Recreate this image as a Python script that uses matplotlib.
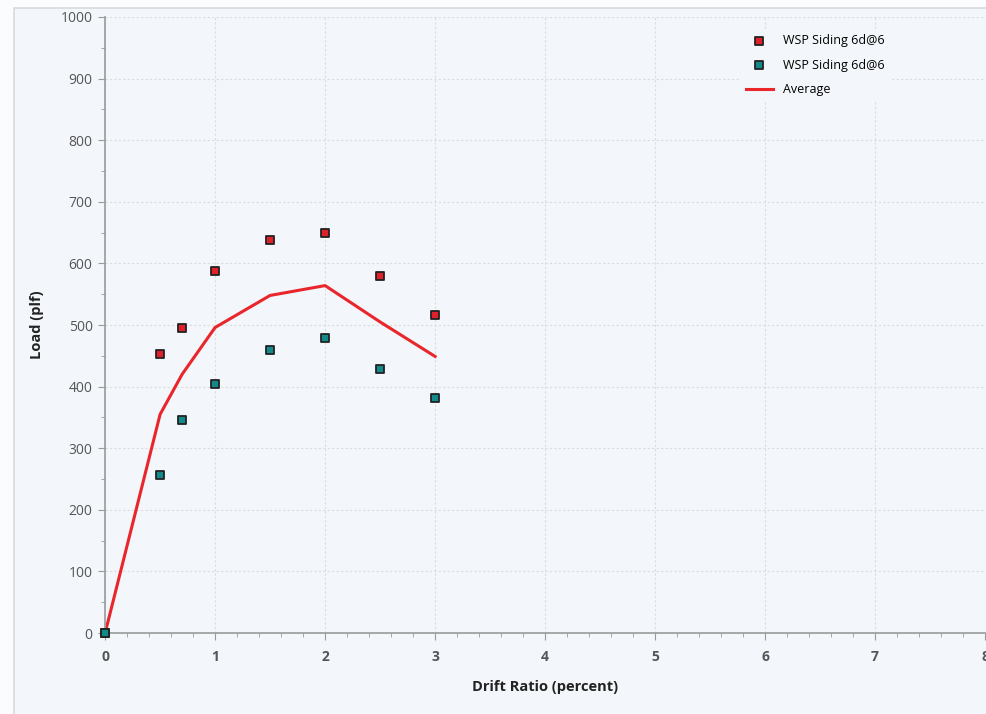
import matplotlib.pyplot as plt
from matplotlib.patches import Rectangle
from matplotlib.ticker import MultipleLocator

# --- Donnees ---
drift = [0, 0.5, 0.7, 1.0, 1.5, 2.0, 2.5, 3.0]
load_a = [0, 453, 495, 588, 638, 649, 580, 516]
load_b = [0, 256, 346, 404, 459, 479, 429, 381]
average = [0, 355, 420, 496, 548, 564, 505, 449]
label_a = "WSP Siding 6d@6"
label_b = "WSP Siding 6d@6"

plt.rcParams["font.family"] = ["Open Sans", "DejaVu Sans"]

fig = plt.figure(figsize=(9.87, 7.14), dpi=100)
fig.patch.set_facecolor("#fbfcfd")
fig.patches.append(Rectangle((0.014, -0.01), 1.0, 0.999, transform=fig.transFigure,
                             facecolor="#f3f6fa", edgecolor="#d8dadd", linewidth=1.2,
                             zorder=-10))

ax = fig.add_axes([0.1065, 0.1134, 0.8915, 0.8628])
ax.set_facecolor("#f3f6fa")

ax.plot(drift, average, color="#e8262b", linewidth=2.2, label="Average", zorder=2)
ax.scatter(drift, load_a, marker="s", s=38, facecolor="#e0202a", edgecolor="#222222",
           linewidth=1.3, label=label_a, zorder=3, clip_on=False)
ax.scatter(drift, load_b, marker="s", s=38, facecolor="#138a8a", edgecolor="#222222",
           linewidth=1.3, label=label_b, zorder=3, clip_on=False)

ax.set_xlim(0, 8)
ax.set_ylim(0, 1000)
ax.xaxis.set_major_locator(MultipleLocator(1))
ax.xaxis.set_minor_locator(MultipleLocator(0.2))
ax.yaxis.set_major_locator(MultipleLocator(100))
ax.yaxis.set_minor_locator(MultipleLocator(50))

ax.grid(True, which="major", color="#dcdcdc", linestyle=(0, (2, 2)), linewidth=0.8)
for s in ["top", "right"]:
    ax.spines[s].set_visible(False)
for s in ["left", "bottom"]:
    ax.spines[s].set_color("#9a9a9a")
    ax.spines[s].set_linewidth(1.2)
ax.tick_params(which="major", length=5, color="#9a9a9a", labelcolor="#555555",
               labelsize=10, pad=4)
ax.tick_params(which="minor", length=3, color="#9a9a9a")
ax.tick_params(axis="x", pad=7)
for lab in ax.get_xticklabels():
    lab.set_fontweight("bold")

ax.set_xlabel("Drift Ratio (percent)", fontsize=10.5, fontweight="bold", color="#222222", labelpad=12)
ax.set_ylabel("Load (plf)", fontsize=10.5, fontweight="bold", color="#222222", labelpad=12)

handles, labels = ax.get_legend_handles_labels()
order = [1, 2, 0]
leg = ax.legend([handles[i] for i in order], [labels[i] for i in order],
                loc="upper left", bbox_to_anchor=(0.715, 0.99), frameon=True,
                facecolor="#f3f6fa", edgecolor="none", fontsize=9,
                handlelength=2.2, labelspacing=0.9, handletextpad=0.8)
leg.get_frame().set_alpha(1)

fig.savefig("out.png", dpi=100, facecolor=fig.get_facecolor())
